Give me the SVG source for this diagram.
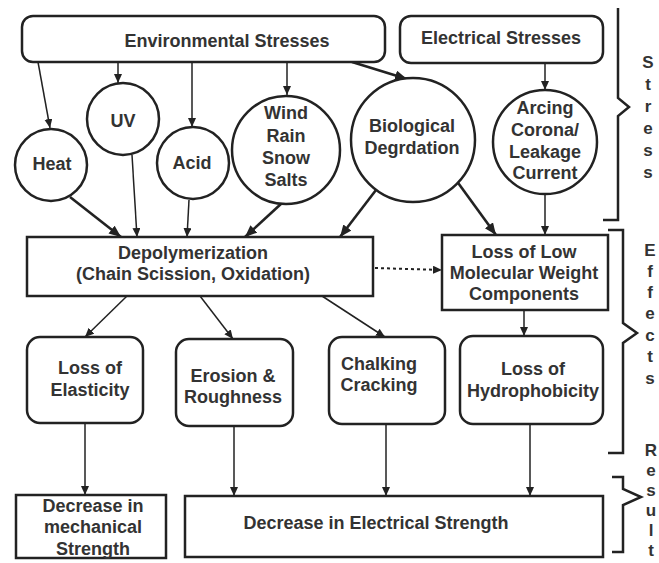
<svg xmlns="http://www.w3.org/2000/svg" width="659" height="563" viewBox="0 0 659 563">
<defs>
<marker id="ah" markerUnits="userSpaceOnUse" markerWidth="10" markerHeight="10" refX="9" refY="4" orient="auto"><path d="M0,0 L9,4 L0,8 Z" fill="#222"/></marker>
<marker id="ahb" markerUnits="userSpaceOnUse" markerWidth="14" markerHeight="12" refX="12" refY="5" orient="auto"><path d="M0,0 L12,5 L0,10 Z" fill="#222"/></marker>
<style>
.n{fill:#fff;stroke:#222;stroke-width:2.5}
.t{font-family:"Liberation Sans",Arial,sans-serif;font-weight:bold;font-size:18px;fill:#333;text-anchor:middle}
.s{font-family:"Liberation Sans",Arial,sans-serif;font-weight:bold;font-size:17px;fill:#333;text-anchor:middle}
.c{fill:none;stroke:#222;stroke-width:1.5;marker-end:url(#ah)}
.cb{fill:none;stroke:#222;stroke-width:2.6;marker-end:url(#ahb)}
.br{fill:none;stroke:#222;stroke-width:2.5}
</style>
</defs>
<rect width="659" height="563" fill="#fff"/>

<g id="connectors">
<path class="c" d="M38,62 L50,128"/>
<path class="c" d="M118,62 L118,83"/>
<path class="c" d="M192,62 L192,127"/>
<path class="c" d="M287,62 L287,95"/>
<path class="cb" d="M352,62 L407,79"/>
<path class="c" d="M545,63 L545,90"/>
<path class="cb" d="M70,197 L121,237"/>
<path class="c" d="M132,155 L137,237"/>
<path class="c" d="M189,200 L187,237"/>
<path class="cb" d="M282,203 L245,237"/>
<path class="cb" d="M376,190 L340,237"/>
<path class="cb" d="M456,180 L496,235"/>
<path class="c" d="M545,193 L545,235"/>
<path class="c" d="M375,268 L442,270" stroke-dasharray="3,3" style="stroke-width:2"/>
<path class="c" d="M127,296 L85,337"/>
<path class="c" d="M200,296 L233,339"/>
<path class="c" d="M322,296 L385,337"/>
<path class="c" d="M524,310 L524,336"/>
<path class="c" d="M85,423 L85,495"/>
<path class="c" d="M234,426 L234,496"/>
<path class="c" d="M386,424 L386,496"/>
<path class="c" d="M530,424 L530,496"/>
</g>

<g id="env"><rect class="n" x="22" y="16" width="363" height="46" rx="11"/><text class="t" x="227" y="47">Environmental Stresses</text></g>
<g id="elec"><rect class="n" x="400" y="16" width="203" height="47" rx="11"/><text class="t" x="501" y="44">Electrical Stresses</text></g>
<g id="heat"><circle class="n" cx="51" cy="165" r="36"/><text class="t" x="52" y="170">Heat</text></g>
<g id="uv"><circle class="n" cx="123" cy="119" r="36"/><text class="t" x="123" y="127">UV</text></g>
<g id="acid"><circle class="n" cx="193" cy="163" r="36"/><text class="t" x="192" y="169">Acid</text></g>
<g id="wind"><circle class="n" cx="286" cy="150" r="54"/><text class="t" x="286" y="119">Wind</text><text class="t" x="286" y="142">Rain</text><text class="t" x="286" y="164">Snow</text><text class="t" x="286" y="186">Salts</text></g>
<g id="bio"><circle class="n" cx="413" cy="140" r="62"/><text class="t" x="412" y="132">Biological</text><text class="t" x="412" y="154">Degrdation</text></g>
<g id="arc"><circle class="n" cx="545" cy="142" r="52"/><text class="t" x="545" y="114">Arcing</text><text class="t" x="545" y="136">Corona/</text><text class="t" x="545" y="158">Leakage</text><text class="t" x="545" y="179">Current</text></g>
<g id="depoly"><rect class="n" x="27" y="237" width="346" height="59"/><text class="t" x="193" y="259">Depolymerization</text><text class="t" x="193" y="280">(Chain Scission, Oxidation)</text></g>
<g id="lowmw"><rect class="n" x="442" y="235" width="166" height="75"/><text class="t" x="524" y="258">Loss of Low</text><text class="t" x="524" y="279">Molecular Weight</text><text class="t" x="524" y="300">Components</text></g>
<g id="elast"><rect class="n" x="27" y="337" width="116" height="86" rx="13"/><text class="t" x="90" y="374">Loss of</text><text class="t" x="90" y="396">Elasticity</text></g>
<g id="erosion"><rect class="n" x="176" y="339" width="117" height="87" rx="13"/><text class="t" x="233" y="382">Erosion &amp;</text><text class="t" x="233" y="403">Roughness</text></g>
<g id="chalk"><rect class="n" x="329" y="337" width="116" height="87" rx="13"/><text class="t" x="379" y="370">Chalking</text><text class="t" x="379" y="391">Cracking</text></g>
<g id="hydro"><rect class="n" x="460" y="336" width="143" height="88" rx="13"/><text class="t" x="533" y="375">Loss of</text><text class="t" x="533" y="397">Hydrophobicity</text></g>
<g id="mech"><rect class="n" x="16" y="495" width="150" height="63"/><text class="t" x="93" y="512">Decrease in</text><text class="t" x="93" y="533">mechanical</text><text class="t" x="93" y="555">Strength</text></g>
<g id="elecstr"><rect class="n" x="185" y="496" width="418" height="61"/><text class="t" x="376" y="529">Decrease in Electrical Strength</text></g>

<g id="braces">
<path class="br" d="M603,220 H618 V116 L629,107 L618,98 V8"/>
<path class="br" d="M608,230 H623 V323 L637,333 L623,343 V453 H608"/>
<path class="br" d="M612,477 H623 V489 L641,497 L623,505 V552 H612"/>
<g class="s">
<text x="648" y="68">S</text><text x="648" y="90">t</text><text x="648" y="112">r</text><text x="648" y="134">e</text><text x="648" y="156">s</text><text x="648" y="178">s</text>
<text x="650" y="256">E</text><text x="650" y="277">f</text><text x="650" y="298">f</text><text x="650" y="319">e</text><text x="650" y="341">c</text><text x="650" y="362">t</text><text x="650" y="384">s</text>
<text x="651" y="456">R</text><text x="651" y="476">e</text><text x="651" y="496">s</text><text x="651" y="516">u</text><text x="651" y="536">l</text><text x="651" y="556">t</text>
</g>
</g>
</svg>
